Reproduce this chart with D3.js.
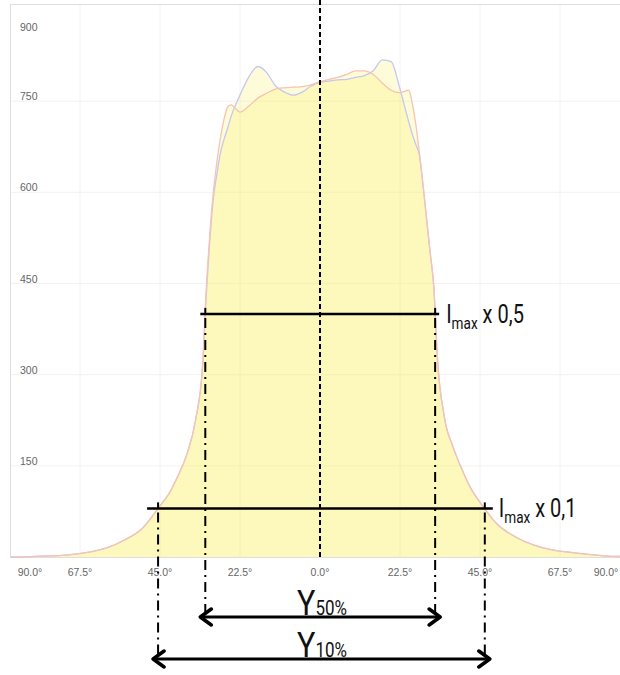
<!DOCTYPE html>
<html>
<head>
<meta charset="utf-8">
<script src="https://cdn.jsdelivr.net/npm/d3@7"></script>
<style>
  body { margin: 0; background: #fff; }
  .tick-label { font-family: Arial, "Liberation Sans", sans-serif; font-size: 10.5px; fill: #666; }
  .note { font-family: Roboto, "DejaVu Sans", sans-serif; fill: #111; }
</style>
</head>
<body>
<div id="chart"></div>
<script>
// angles (deg) shared by both curves
var angles = [-90,-80,-70,-65,-60,-55,-50,-45,-42.5,-40,-37.5,-35,-33,-32,-31,-30,-29,-28,-27,-26,-25,
              -22.5,-20,-17.5,-15,-12.5,-10,-7.5,-5,-2.5,0,2.5,5,7.5,10,12.5,15,17.5,20,22.5,
              25,26,27,28,29,30,31,32,33,35,37.5,40,42.5,45,50,55,60,65,70,80,90];

// blue curve (with the two peaks)
var seriesA = [0,1,4,8,15,28,47,84,104,133,168,225,315,430,520,590,630,665,687,705,725,
               760,790,807,797,775,765,760,765,775,781,783,785,786,789,792,800,818,815,770,
               715,695,678,660,610,555,500,445,328,229,180,143,112,90,53,33,20,12,8,2,0];

// orange curve (flatter top)
var seriesB = [0,1,4,8,15,28,47,84,104,133,168,225,318,440,530,600,650,690,720,740,744,
               732,742,755,763,770,772,773,774,777,782,786,789,794,800,800,794,780,768,764,
               768,745,710,662,612,555,500,445,330,230,180,143,112,90,53,33,20,12,8,2,0];

var xTicks = [-90,-67.5,-45,-22.5,0,22.5,45,67.5,90];
var xTickLabels = ["90.0°","67.5°","45.0°","22.5°","0.0°","22.5°","45.0°","67.5°","90.0°"];
var yTicks = [150,300,450,600,750,900];

var imax = 800;
var levels = [0.5, 0.1];
var levelLabels = ["x 0,5", "x 0,1"];
var spanLabels = ["50%", "10%"];

var width = 620, height = 675;

var x = d3.scaleLinear().domain([-90, 90]).range([0, 640]);
var y = d3.scaleLinear().domain([0, 900]).range([557, 10]);

var svg = d3.select("#chart").append("svg")
            .attr("width", width)
            .attr("height", height);

svg.append("defs").append("clipPath").attr("id", "plot-clip")
   .append("rect").attr("x", 11).attr("y", 5).attr("width", 610).attr("height", 553);

// frame
svg.append("rect")
   .attr("x", 10.5).attr("y", 4.5)
   .attr("width", 620).attr("height", 553)
   .attr("fill", "none")
   .attr("stroke", "#dedede");

// grid
svg.append("g").selectAll("line")
   .data(xTicks.slice(1, -1))
   .enter().append("line")
   .attr("x1", d => x(d)).attr("x2", d => x(d))
   .attr("y1", 5).attr("y2", 557)
   .attr("stroke", "#f2f2f2");

svg.append("g").selectAll("line")
   .data(yTicks.slice(0, -1))
   .enter().append("line")
   .attr("x1", 11).attr("x2", 620)
   .attr("y1", d => y(d)).attr("y2", d => y(d))
   .attr("stroke", "#f2f2f2");

// tick labels
svg.append("g").selectAll("text")
   .data(xTicks)
   .enter().append("text")
   .attr("class", "tick-label")
   .attr("text-anchor", "middle")
   .attr("x", d => Math.max(30, Math.min(606, x(d))))
   .attr("y", 576)
   .text((d, i) => xTickLabels[i]);

svg.append("g").selectAll("text")
   .data(yTicks)
   .enter().append("text")
   .attr("class", "tick-label")
   .attr("x", 20)
   .attr("y", d => Math.max(31, y(d) - 1))
   .text(d => d);

// curves
var pts = function(vals) { return angles.map((a, i) => [a, vals[i]]); };

var area = d3.area()
             .x(d => x(d[0]))
             .y0(y(0))
             .y1(d => y(d[1]))
             .curve(d3.curveMonotoneX);

var line = d3.line()
             .x(d => x(d[0]))
             .y(d => y(d[1]))
             .curve(d3.curveMonotoneX);

var curves = svg.append("g").attr("clip-path", "url(#plot-clip)");

[[seriesA, "#c6c6f2"], [seriesB, "#f6c4b2"]].forEach(function(s) {
  curves.append("path")
        .attr("d", area(pts(s[0])))
        .attr("fill", "rgb(250,236,80)")
        .attr("fill-opacity", 0.22);
});
[[seriesA, "#c6c6f2"], [seriesB, "#f6c4b2"]].forEach(function(s) {
  curves.append("path")
        .attr("d", line(pts(s[0])))
        .attr("fill", "none")
        .attr("stroke", s[1])
        .attr("stroke-width", 1.3);
});

// centre dashed line
svg.append("line")
   .attr("x1", x(0)).attr("x2", x(0))
   .attr("y1", 0).attr("y2", 557)
   .attr("stroke", "#000")
   .attr("stroke-width", 2)
   .attr("stroke-dasharray", "5,3");

// where the blue curve crosses a level
function crossing(level, side) {
  var idx = d3.range(angles.length);
  if (side > 0) idx.reverse();
  for (var k = 0; k < idx.length - 1; k++) {
    var i = idx[k], j = idx[k + 1];
    if (seriesA[i] <= level && seriesA[j] > level) {
      var t = (level - seriesA[i]) / (seriesA[j] - seriesA[i]);
      return angles[i] + t * (angles[j] - angles[i]);
    }
  }
  return 0;
}

var arrowY = [617, 659];
var overhang = [[5, 4], [11, 8]];
var labelGap = [11, 14];

levels.forEach(function(f, n) {
  var lv = imax * f;
  var yl = y(lv);
  var xl = x(crossing(lv, -1));
  var xr = x(crossing(lv, 1));
  var g = svg.append("g");

  g.append("line")
   .attr("x1", xl - overhang[n][0]).attr("x2", xr + overhang[n][1])
   .attr("y1", yl).attr("y2", yl)
   .attr("stroke", "#000").attr("stroke-width", 2.5);

  [xl, xr].forEach(function(xx) {
    g.append("line")
     .attr("x1", xx).attr("x2", xx)
     .attr("y1", yl - 6).attr("y2", yl)
     .attr("stroke", "#000").attr("stroke-width", 2);
    g.append("line")
     .attr("x1", xx).attr("x2", xx)
     .attr("y1", yl + 4).attr("y2", arrowY[n])
     .attr("stroke", "#000").attr("stroke-width", 2)
     .attr("stroke-dasharray", "10,5,2,5");
  });

  // condensed look: squeeze the text horizontally
  var t = g.append("text")
           .attr("class", "note")
           .attr("transform", "translate(" + (xr + labelGap[n]) + "," + (yl + 9) + ") scale(0.8,1)")
           .style("font-size", "25px");
  t.append("tspan").text("I");
  t.append("tspan").attr("dy", 6).style("font-size", "17px").text("max");
  t.append("tspan").attr("dy", -6).text(" " + levelLabels[n]);

  // double arrow
  var ay = arrowY[n];
  var a0 = xl - 5, a1 = xr + 5;
  g.append("line")
   .attr("x1", a0).attr("x2", a1)
   .attr("y1", ay).attr("y2", ay)
   .attr("stroke", "#000").attr("stroke-width", 3);
  g.append("path")
   .attr("d", "M" + (a0 + 11) + "," + (ay - 8) + "L" + a0 + "," + ay + "L" + (a0 + 11) + "," + (ay + 8) +
              "M" + (a1 - 11) + "," + (ay - 8) + "L" + a1 + "," + ay + "L" + (a1 - 11) + "," + (ay + 8))
   .attr("fill", "none")
   .attr("stroke", "#000")
   .attr("stroke-width", 3.5)
   .attr("stroke-linecap", "round")
   .attr("stroke-linejoin", "round");

  var s = g.append("text")
           .attr("class", "note")
           .attr("transform", "translate(297," + (ay - 2) + ") scale(0.85,1)");
  s.append("tspan").style("font-size", "36px").text("Y");
  s.append("tspan").style("font-size", "20px").text(spanLabels[n]);
});
</script>
</body>
</html>
